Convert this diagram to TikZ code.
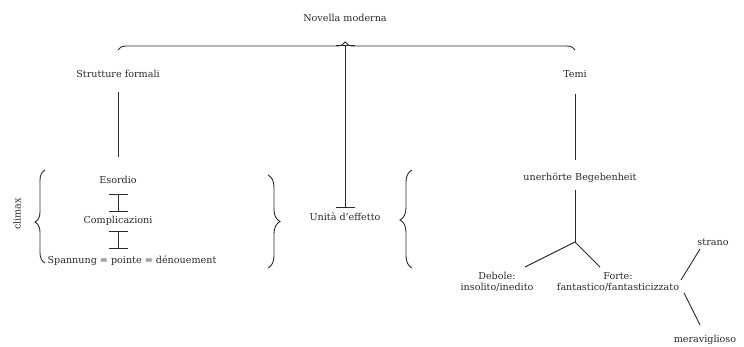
\documentclass[tikz,border=0pt]{standalone}
\usepackage{fontspec}
\setmainfont{DejaVu Serif}
\usetikzlibrary{arrows.meta,decorations.pathreplacing}
\definecolor{ink}{HTML}{2A2A2A}
\begin{document}
\begin{tikzpicture}[x=1pt,y=-1pt,
  every node/.style={text=ink,font=\fontsize{9.6}{11}\selectfont,inner sep=1pt},
  conn/.style={draw=ink,line width=0.9pt},
  ibar/.style={conn,{Bar[width=19pt]}-{Bar[width=19pt]}},
  bracestyle/.style={conn,decorate,decoration={brace,amplitude=#1}}]
\useasboundingbox (0,0) rectangle (744,347);
% texts
\node (novella) at (345,18) {Novella moderna};
\node (strutture) at (118,74) {Strutture formali};
\node (temi) at (575,74) {Temi};
\node (esordio) at (118,180) {Esordio};
\node (compl) at (118,221) {Complicazioni};
\node (spann) at (132,261) {Spannung = pointe = dénouement};
\node[rotate=90] (climax) at (17,214) {climax};
\node (unita) at (345,217) {Unità d'effetto};
\node (unerh) at (580,178) {unerhörte Begebenheit};
\node[align=center] (debole) at (497,282) {Debole:\\insolito/inedito};
\node[align=center] (forte) at (618,282) {Forte:\\fantastico/fantasticizzato};
\node (strano) at (713,242) {strano};
\node (merav) at (705,340) {meraviglioso};
% coordinates
\coordinate (tip) at (345,45);
\coordinate (bartop) at (345,208);
\coordinate (junc) at (575,242);
\coordinate (debend) at (525,267);
\coordinate (forend) at (600,267);
\coordinate (fr1) at (681,280);
\coordinate (fr2) at (684,293);
\coordinate (st) at (700,249);
\coordinate (me) at (700,325);
% braces
\draw[bracestyle=8pt,decoration={aspect=0.497}] (118,50) -- (575,50);
\draw[bracestyle=10pt,decoration={aspect=0.44}] (45,263) -- (45,170);
\draw[bracestyle=12pt,decoration={aspect=0.5}] (268,175) -- (268,268);
\draw[bracestyle=12pt,decoration={aspect=0.49}] (412,268) -- (412,170);
% connectors
\draw[ibar] (tip) -- (bartop);
\draw[conn] (strutture.south |- 0,92) -- (esordio.north |- 0,157);
\draw[conn] (temi.south |- 0,94) -- (temi.south |- 0,160);
\draw[ibar] (esordio.south |- 0,194) -- (esordio.south |- 0,212);
\draw[ibar] (compl.south |- 0,231) -- (compl.south |- 0,249);
\draw[conn] (junc |- 0,190) -- (junc);
\draw[conn] (junc) -- (debend);
\draw[conn] (junc) -- (forend);
\draw[conn] (fr1) -- (st);
\draw[conn] (fr2) -- (me);
\end{tikzpicture}
\end{document}
